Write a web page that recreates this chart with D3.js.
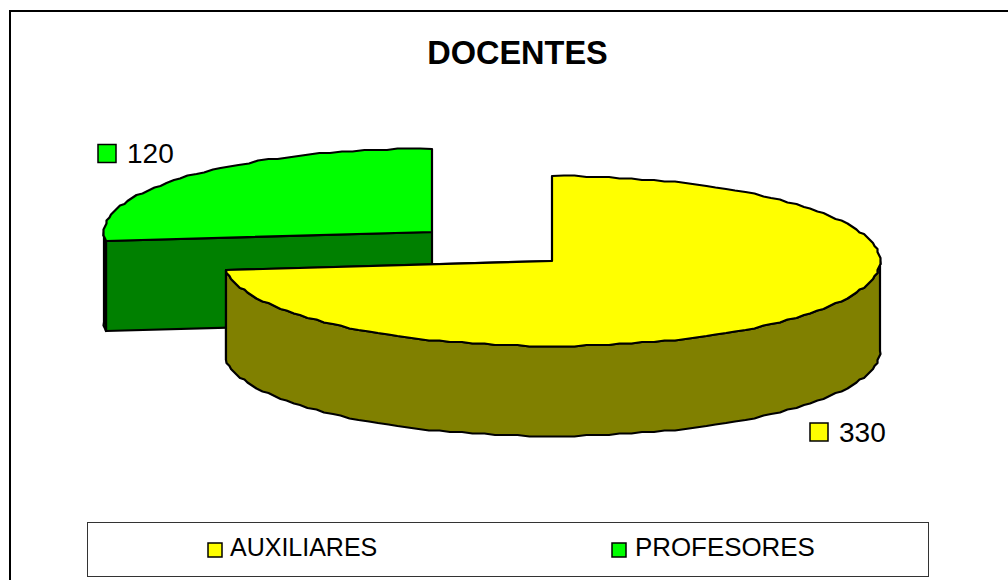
<!DOCTYPE html>
<html>
<head>
<meta charset="utf-8">
<script src="https://cdn.jsdelivr.net/npm/d3@7/dist/d3.min.js"></script>
<style>
html,body{margin:0;padding:0;background:#fff;overflow:hidden}
svg{display:block}
text{font-family:"Liberation Sans",Arial,sans-serif;fill:#000}
</style>
</head>
<body>
<script>
const chartTitle = "DOCENTES";
const categories = ["AUXILIARES", "PROFESORES"];
const values = [330, 120];
const topColors = ["#ffff00", "#00ff00"];
const sideColors = ["#808000", "#008000"];

const width = 1008, height = 580;
const svg = d3.select("body").append("svg").attr("width", width).attr("height", height);

// frame
svg.append("path").attr("d", "M10,580V11H1008").attr("fill", "none").attr("stroke", "#000").attr("stroke-width", 2);

svg.append("text").attr("x", 517.5).attr("y", 64).attr("text-anchor", "middle")
  .attr("font-weight", "bold").attr("font-size", 32.5).text(chartTitle);

// pie geometry
const rx = 328, depth = 90;
const centers = [{x: 552, y: 261, ry: 85}, {x: 432, y: 232, ry: 83.5}];
const arcs = d3.pie().sort(null).startAngle(0).endAngle(2 * Math.PI)(values);
const line = d3.line();

function pt(c, a, dy, rough) {
  const sx = d3.scaleLinear().domain([-1, 1]).range([c.x - rx, c.x + rx]);
  const sy = d3.scaleLinear().domain([-1, 1]).range([c.y - c.ry, c.y + c.ry]);
  const snap = rough ? (v => Math.round(v / 1.5) * 1.5) : Math.round;
  return [snap(sx(Math.sin(a))), snap(sy(-Math.cos(a))) + (dy || 0)];
}
function angles(a0, a1) {
  const n = Math.max(1, Math.ceil((a1 - a0) / (2 * Math.PI / 180)));
  return d3.range(n + 1).map(i => a0 + (a1 - a0) * i / n);
}
function roughEdge(c, as, dy) {
  return as.map((a, i) => pt(c, a, dy, i > 0 && i < as.length - 1));
}
function drawSlice(i) {
  const c = centers[i], s = arcs[i];
  const g = svg.append("g").attr("stroke", "#000").attr("stroke-width", 2.2).attr("stroke-linejoin", "round");
  // cut faces along the radii
  [s.startAngle, s.endAngle].forEach(a => {
    const p = pt(c, a, 0), q = [c.x, c.y];
    if (p[1] >= c.y) {
      g.append("path").attr("fill", sideColors[i])
        .attr("d", line([q, p, [p[0], p[1] + depth], [q[0], q[1] + depth]]) + "Z");
    }
  });
  // outer wall: the part of the rim that faces the viewer or shows at the sides
  const lo = Math.max(s.startAngle, Math.PI / 2);
  const hi = Math.min(s.endAngle, 3 * Math.PI / 2);
  if (hi > lo) {
    const as = angles(lo, hi);
    const upper = roughEdge(c, as, 0);
    const lower = roughEdge(c, as.slice().reverse(), depth);
    g.append("path").attr("fill", sideColors[i]).attr("d", line(upper.concat(lower)) + "Z");
  }
  // top face
  const rim = roughEdge(c, angles(s.startAngle, s.endAngle), 0);
  g.append("path").attr("fill", topColors[i]).attr("d", line([[c.x, c.y]].concat(rim)) + "Z");
}
drawSlice(1);
drawSlice(0);

// data labels
const labelPos = [{x: 810, y: 423, tx: 839, ty: 441.5}, {x: 98, y: 144.5, tx: 127, ty: 163}];
labelPos.forEach((p, i) => {
  svg.append("rect").attr("x", p.x).attr("y", p.y).attr("width", 18).attr("height", 18)
    .attr("fill", topColors[i]).attr("stroke", "#000").attr("stroke-width", 1.5);
  svg.append("text").attr("x", p.tx).attr("y", p.ty).attr("font-size", 28).text(values[i]);
});

// legend
svg.append("rect").attr("x", 87.5).attr("y", 522.5).attr("width", 841).attr("height", 54)
  .attr("fill", "#fff").attr("stroke", "#333").attr("stroke-width", 1);
const legendPos = [{x: 208, tx: 230, size: 25}, {x: 612, tx: 635, size: 25.9}];
legendPos.forEach((p, i) => {
  svg.append("rect").attr("x", p.x).attr("y", 543).attr("width", 14).attr("height", 14)
    .attr("fill", topColors[i]).attr("stroke", "#000").attr("stroke-width", 1.5);
  svg.append("text").attr("x", p.tx).attr("y", 556).attr("font-size", p.size).text(categories[i]);
});
</script>
</body>
</html>
